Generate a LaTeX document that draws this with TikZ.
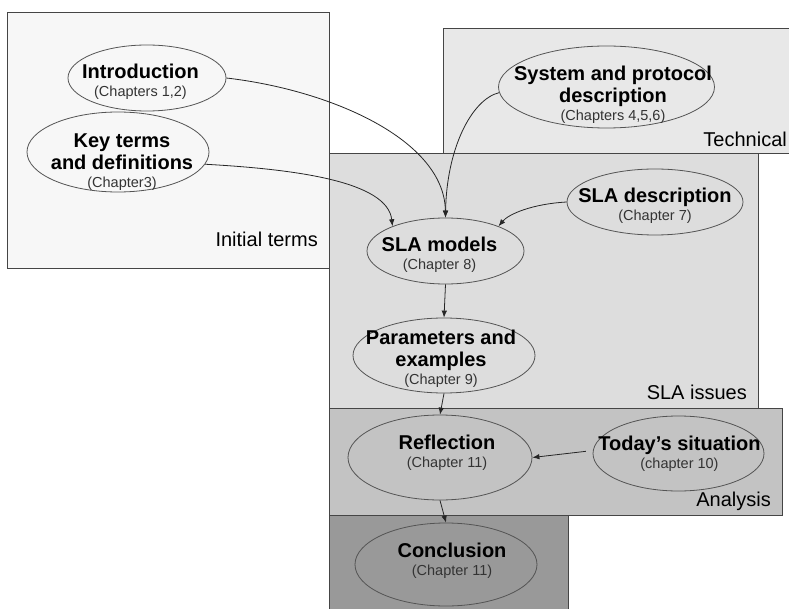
\documentclass[tikz,border=0pt]{standalone}
\usepackage{fontspec}
\setmainfont{Liberation Sans}
\usetikzlibrary{shapes.geometric,arrows.meta}

\definecolor{initfill}{gray}{0.97}
\definecolor{techfill}{gray}{0.91}
\definecolor{slafill}{gray}{0.865}
\definecolor{anafill}{gray}{0.765}
\definecolor{concfill}{gray}{0.60}
\definecolor{edgegray}{gray}{0.27}
\definecolor{ovalgray}{gray}{0.33}

\newcommand\chaptxt{\fontsize{14.5}{17}\selectfont\mdseries\color{black!80}}

\tikzset{
  area/.style={draw=edgegray, line width=0.9pt},
  oval/.style={ellipse, draw=ovalgray, line width=0.8pt, inner sep=0pt},
  title/.style={align=center, inner sep=0pt, font=\fontsize{20}{22}\selectfont\bfseries},
  grp/.style={anchor=base east, inner sep=0pt, font=\fontsize{20}{24}\selectfont},
  conn/.style={draw=black!85, line width=0.8pt, -{Latex[length=7pt,width=5.5pt]}},
}

\begin{document}
\begin{tikzpicture}[x=1pt,y=-1pt]
\useasboundingbox (0,0) rectangle (789,609);
\clip (0,0) rectangle (789,609);
\fill[white] (0,0) rectangle (789,609);

% grouping areas
\path[area, fill=techfill] (443,28) rectangle (795,153);
\path[area, fill=initfill] (7,12) rectangle (329,268);
\path[area, fill=slafill] (329,153) rectangle (758,408);
\path[area, fill=anafill] (329,408) rectangle (782,515);
\path[area, fill=concfill] (329,515) rectangle (568,615);

\node[grp] (g-init) at (318,247) {Initial terms};
\node[grp] (g-tech) at (787,147) {Technical};
\node[grp] (g-sla)  at (747,399) {SLA issues};
\node[grp] (g-ana)  at (771,506) {Analysis};

% chapter ovals
\node[oval, minimum width=158pt, minimum height=66pt] (intro)   at (147,78) {};
\node[oval, minimum width=182pt, minimum height=80pt] (key)     at (118,152) {};
\node[oval, minimum width=216pt, minimum height=82pt] (sys)     at (606.5,87) {};
\node[oval, minimum width=176pt, minimum height=66pt] (sladesc) at (655,202) {};
\node[oval, minimum width=157pt, minimum height=66pt] (models)  at (445.5,251) {};
\node[oval, minimum width=182pt, minimum height=75pt] (params)  at (444,355.5) {};
\node[oval, minimum width=184pt, minimum height=85pt] (refl)    at (440,457.5) {};
\node[oval, minimum width=171pt, minimum height=75pt] (today)   at (678.5,453.5) {};
\node[oval, minimum width=182pt, minimum height=83pt] (concl)   at (446,564.5) {};

% oval texts
\node[title] (intro-t)   at (140.5,82)   {Introduction\\[-4pt]{\chaptxt (Chapters 1,2)}};
\node[title] (key-t)     at (122,162)    {Key terms\\and definitions\\[-4pt]{\chaptxt (Chapter3)}};
\node[title] (sys-t)     at (613,94.5)   {System and protocol\\description\\[-4pt]{\chaptxt (Chapters 4,5,6)}};
\node[title] (sladesc-t) at (655,206)    {SLA description\\[-4pt]{\chaptxt (Chapter 7)}};
\node[title] (models-t)  at (439.5,255)  {SLA models\\[-4pt]{\chaptxt (Chapter 8)}};
\node[title] (params-t)  at (441,358.5)  {Parameters and\\examples\\[-4pt]{\chaptxt (Chapter 9)}};
\node[title] (refl-t)    at (447,453)    {Reflection\\[-4pt]{\chaptxt (Chapter 11)}};
\node[title] (today-t)   at (679.5,454)  {Today’s situation\\[-4pt]{\chaptxt (chapter 10)}};
\node[title] (concl-t)   at (452,560.5)  {Conclusion\\[-4pt]{\chaptxt (Chapter 11)}};

% reading order
\draw[conn] (intro.east) .. controls +(104,12) and +(-1,-78) .. (models.north);
\draw[conn] (key.-8) .. controls +(90,5) and +(-5,-45) .. (models.155);
\draw[conn] (sys.183) .. controls +(-28,7) and +(1,-68) .. (models.north);
\draw[conn] (sladesc.west) .. controls +(-35,2) and +(10,-12) .. (models.25);
\draw[conn] (models.south) -- (params.north);
\draw[conn] (params.south) -- (refl.north);
\draw[conn, shorten <=7pt] (today.178) -- (refl.east);
\draw[conn] (refl.south) -- (concl.north);
\end{tikzpicture}
\end{document}
